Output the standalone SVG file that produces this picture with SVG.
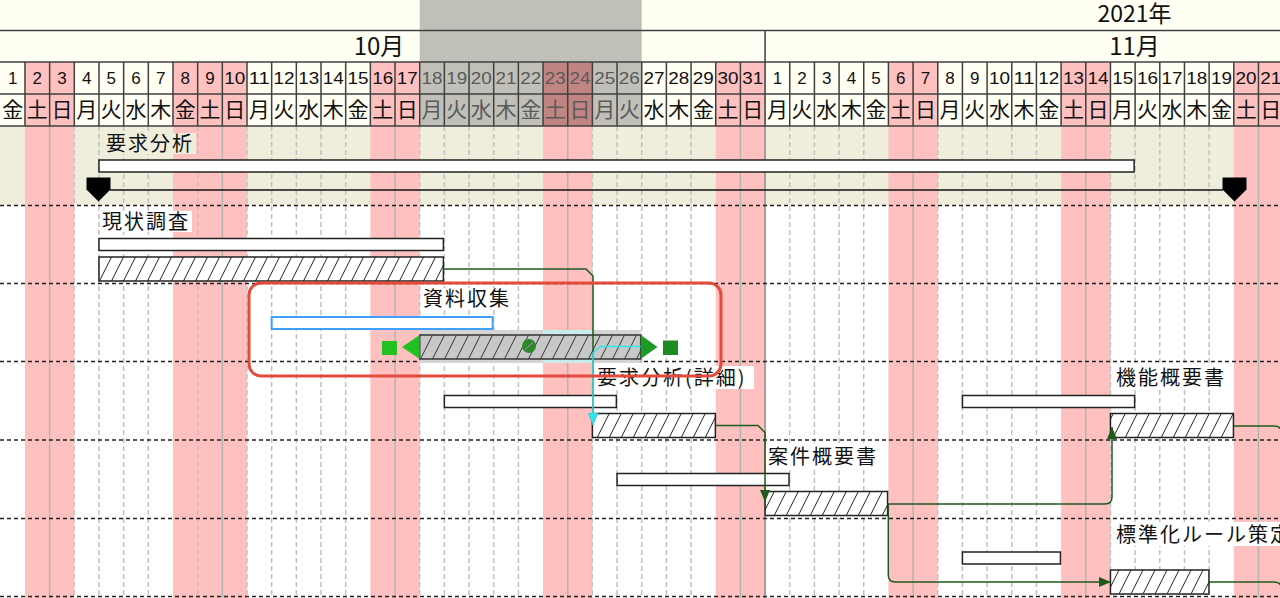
<svg xmlns="http://www.w3.org/2000/svg" width="1280" height="598" viewBox="0 0 1280 598">
<style>
.hl{stroke:#404040;stroke-width:1.5;fill:none}
.dash{stroke:#c2c2c2;stroke-width:1.5;stroke-dasharray:5 3;fill:none}
.sun{stroke:#b4b4b4;stroke-width:1.5;fill:none}
.rowsep{stroke:#202020;stroke-width:1.5;stroke-dasharray:4 3;fill:none}
.dn{font-family:"Liberation Sans",Arial,sans-serif;font-size:17px;fill:#111;text-anchor:middle}
.wd{font-family:"Noto Sans CJK JP","Noto Sans CJK SC",sans-serif;font-size:21px;fill:#111;text-anchor:middle}
.g{fill:#5a5a5a}
.mh{font-family:"Noto Sans CJK JP","Noto Sans CJK SC",sans-serif;font-size:24px;fill:#111;text-anchor:middle}
.yr{font-family:"Noto Sans CJK JP","Noto Sans CJK SC",sans-serif;font-size:23px;fill:#111;text-anchor:middle}
.lbl{font-family:"Noto Sans CJK JP","Noto Sans CJK SC",sans-serif;font-size:20px;letter-spacing:2px;fill:#111}
.plan{fill:#fff;stroke:#222;stroke-width:1.5}
.act{fill:url(#hatch);stroke:#222;stroke-width:1.5}
.con{fill:none;stroke:#1e5a1e;stroke-width:1.5}
</style>
<defs>
<pattern id="hatch" patternUnits="userSpaceOnUse" width="12" height="24">
<rect width="12" height="24" fill="#fff"/>
<path d="M0,24L12,0M-12,24L0,0M12,24L24,0" stroke="#222" stroke-width="1"/>
</pattern>
<pattern id="hatchGray" patternUnits="userSpaceOnUse" width="12" height="24">
<rect width="12" height="24" fill="#c8c8c8"/>
<path d="M0,24L12,0M-12,24L0,0M12,24L24,0" stroke="#333" stroke-width="1"/>
</pattern>
<marker id="arrG" viewBox="0 0 12 10" refX="12" refY="5" markerWidth="12" markerHeight="10" markerUnits="userSpaceOnUse" orient="auto">
<path d="M0,0L12,5L0,10Z" fill="#1e5a1e"/>
</marker>
<marker id="arrC" viewBox="0 0 12 10" refX="12" refY="5" markerWidth="12" markerHeight="10" markerUnits="userSpaceOnUse" orient="auto">
<path d="M0,0L12,5L0,10Z" fill="#30e4f0"/>
</marker>
</defs>

<!-- backgrounds -->
<g id="background">
<rect x="0" y="0" width="1280" height="126" fill="#fffff4"/>
<rect x="419.69" y="0" width="222.03" height="126" fill="#c0c0b8"/>
<g fill="#ffc0c0">
<rect x="24.97" y="62" width="49.34" height="64"/>
<rect x="172.99" y="62" width="74.01" height="64"/>
<rect x="370.35" y="62" width="49.34" height="64"/>
<rect x="715.73" y="62" width="49.34" height="64"/>
<rect x="888.42" y="62" width="49.34" height="64"/>
<rect x="1061.11" y="62" width="49.34" height="64"/>
<rect x="1233.8" y="62" width="49.34" height="64"/>
</g>
<rect x="543.04" y="62" width="49.34" height="64" fill="#c08482"/>
<rect x="0" y="126" width="1280" height="472" fill="#ffffff"/>
<rect x="0" y="126" width="1280" height="79.5" fill="#efeedc"/>
<g fill="#ffc0c0">
<rect x="24.97" y="126" width="49.34" height="472"/>
<rect x="172.99" y="126" width="74.01" height="472"/>
<rect x="370.35" y="126" width="49.34" height="472"/>
<rect x="543.04" y="126" width="49.34" height="472"/>
<rect x="715.73" y="126" width="49.34" height="472"/>
<rect x="888.42" y="126" width="49.34" height="472"/>
<rect x="1061.11" y="126" width="49.34" height="472"/>
<rect x="1233.8" y="126" width="49.34" height="472"/>
</g>
</g>

<!-- grid -->
<g id="grid">
<path class="dash" d="M74.31,126V598M98.98,126V598M123.65,126V598M148.32,126V598M197.66,126V598M247,126V598M271.67,126V598M296.34,126V598M321.01,126V598M345.68,126V598M419.69,126V598M444.36,126V598M469.03,126V598M493.7,126V598M518.37,126V598M592.38,126V598M617.05,126V598M641.72,126V598M666.39,126V598M691.06,126V598M789.74,126V598M814.41,126V598M839.08,126V598M863.75,126V598M937.76,126V598M962.43,126V598M987.1,126V598M1011.77,126V598M1036.44,126V598M1110.45,126V598M1135.12,126V598M1159.79,126V598M1184.46,126V598M1209.13,126V598"/>
<path class="sun" d="M49.64,126V598M222.33,126V598M395.02,126V598M567.71,126V598M740.4,126V598M913.09,126V598M1085.78,126V598M1258.47,126V598"/>
<path d="M765.07,126V598" stroke="#8c8c8c" stroke-width="1.5"/>
<path class="hl" d="M0,30.5H1280M0,62H1280M0,94H1280M0,126H1280M765.07,30.5V62"/>
<path class="hl" d="M24.97,62V126M49.64,62V126M74.31,62V126M98.98,62V126M123.65,62V126M148.32,62V126M172.99,62V126M197.66,62V126M222.33,62V126M247,62V126M271.67,62V126M296.34,62V126M321.01,62V126M345.68,62V126M370.35,62V126M395.02,62V126M419.69,62V126M444.36,62V126M469.03,62V126M493.7,62V126M518.37,62V126M543.04,62V126M567.71,62V126M592.38,62V126M617.05,62V126M641.72,62V126M666.39,62V126M691.06,62V126M715.73,62V126M740.4,62V126M765.07,62V126M789.74,62V126M814.41,62V126M839.08,62V126M863.75,62V126M888.42,62V126M913.09,62V126M937.76,62V126M962.43,62V126M987.1,62V126M1011.77,62V126M1036.44,62V126M1061.11,62V126M1085.78,62V126M1110.45,62V126M1135.12,62V126M1159.79,62V126M1184.46,62V126M1209.13,62V126M1233.8,62V126M1258.47,62V126"/>
<path class="rowsep" d="M0,205.5H1280M0,283.5H1280M0,361.5H1280M0,440H1280M0,518.5H1280M0,596.5H1280"/>
</g>

<!-- header texts -->
<g id="header">
<text class="yr" x="1134.5" y="22">2021年</text>
<text class="mh" x="379" y="55">10月</text>
<text class="mh" x="1134.5" y="55">11月</text>
<g>
<text class="dn" x="12.63" y="84">1</text>
<text class="dn" x="37.3" y="84">2</text>
<text class="dn" x="61.97" y="84">3</text>
<text class="dn" x="86.64" y="84">4</text>
<text class="dn" x="111.31" y="84">5</text>
<text class="dn" x="135.98" y="84">6</text>
<text class="dn" x="160.65" y="84">7</text>
<text class="dn" x="185.32" y="84">8</text>
<text class="dn" x="209.99" y="84">9</text>
<text class="dn" x="234.66" y="84" textLength="21" lengthAdjust="spacingAndGlyphs">10</text>
<text class="dn" x="259.33" y="84" textLength="21" lengthAdjust="spacingAndGlyphs">11</text>
<text class="dn" x="284" y="84" textLength="21" lengthAdjust="spacingAndGlyphs">12</text>
<text class="dn" x="308.67" y="84" textLength="21" lengthAdjust="spacingAndGlyphs">13</text>
<text class="dn" x="333.34" y="84" textLength="21" lengthAdjust="spacingAndGlyphs">14</text>
<text class="dn" x="358.01" y="84" textLength="21" lengthAdjust="spacingAndGlyphs">15</text>
<text class="dn" x="382.68" y="84" textLength="21" lengthAdjust="spacingAndGlyphs">16</text>
<text class="dn" x="407.35" y="84" textLength="21" lengthAdjust="spacingAndGlyphs">17</text>
<text class="dn g" x="432.02" y="84" textLength="21" lengthAdjust="spacingAndGlyphs">18</text>
<text class="dn g" x="456.69" y="84" textLength="21" lengthAdjust="spacingAndGlyphs">19</text>
<text class="dn g" x="481.36" y="84" textLength="21" lengthAdjust="spacingAndGlyphs">20</text>
<text class="dn g" x="506.03" y="84" textLength="21" lengthAdjust="spacingAndGlyphs">21</text>
<text class="dn g" x="530.7" y="84" textLength="21" lengthAdjust="spacingAndGlyphs">22</text>
<text class="dn g" x="555.37" y="84" textLength="21" lengthAdjust="spacingAndGlyphs">23</text>
<text class="dn g" x="580.04" y="84" textLength="21" lengthAdjust="spacingAndGlyphs">24</text>
<text class="dn g" x="604.71" y="84" textLength="21" lengthAdjust="spacingAndGlyphs">25</text>
<text class="dn g" x="629.38" y="84" textLength="21" lengthAdjust="spacingAndGlyphs">26</text>
<text class="dn" x="654.05" y="84" textLength="21" lengthAdjust="spacingAndGlyphs">27</text>
<text class="dn" x="678.72" y="84" textLength="21" lengthAdjust="spacingAndGlyphs">28</text>
<text class="dn" x="703.39" y="84" textLength="21" lengthAdjust="spacingAndGlyphs">29</text>
<text class="dn" x="728.06" y="84" textLength="21" lengthAdjust="spacingAndGlyphs">30</text>
<text class="dn" x="752.73" y="84" textLength="21" lengthAdjust="spacingAndGlyphs">31</text>
<text class="dn" x="777.4" y="84">1</text>
<text class="dn" x="802.07" y="84">2</text>
<text class="dn" x="826.74" y="84">3</text>
<text class="dn" x="851.41" y="84">4</text>
<text class="dn" x="876.08" y="84">5</text>
<text class="dn" x="900.75" y="84">6</text>
<text class="dn" x="925.42" y="84">7</text>
<text class="dn" x="950.09" y="84">8</text>
<text class="dn" x="974.76" y="84">9</text>
<text class="dn" x="999.43" y="84" textLength="21" lengthAdjust="spacingAndGlyphs">10</text>
<text class="dn" x="1024.1" y="84" textLength="21" lengthAdjust="spacingAndGlyphs">11</text>
<text class="dn" x="1048.77" y="84" textLength="21" lengthAdjust="spacingAndGlyphs">12</text>
<text class="dn" x="1073.44" y="84" textLength="21" lengthAdjust="spacingAndGlyphs">13</text>
<text class="dn" x="1098.11" y="84" textLength="21" lengthAdjust="spacingAndGlyphs">14</text>
<text class="dn" x="1122.78" y="84" textLength="21" lengthAdjust="spacingAndGlyphs">15</text>
<text class="dn" x="1147.45" y="84" textLength="21" lengthAdjust="spacingAndGlyphs">16</text>
<text class="dn" x="1172.12" y="84" textLength="21" lengthAdjust="spacingAndGlyphs">17</text>
<text class="dn" x="1196.79" y="84" textLength="21" lengthAdjust="spacingAndGlyphs">18</text>
<text class="dn" x="1221.46" y="84" textLength="21" lengthAdjust="spacingAndGlyphs">19</text>
<text class="dn" x="1246.13" y="84" textLength="21" lengthAdjust="spacingAndGlyphs">20</text>
<text class="dn" x="1270.8" y="84" textLength="21" lengthAdjust="spacingAndGlyphs">21</text>
</g>
<g>
<text class="wd" x="12.63" y="116.5">金</text>
<text class="wd" x="37.3" y="116.5">土</text>
<text class="wd" x="61.97" y="116.5">日</text>
<text class="wd" x="86.64" y="116.5">月</text>
<text class="wd" x="111.31" y="116.5">火</text>
<text class="wd" x="135.98" y="116.5">水</text>
<text class="wd" x="160.65" y="116.5">木</text>
<text class="wd" x="185.32" y="116.5">金</text>
<text class="wd" x="209.99" y="116.5">土</text>
<text class="wd" x="234.66" y="116.5">日</text>
<text class="wd" x="259.33" y="116.5">月</text>
<text class="wd" x="284" y="116.5">火</text>
<text class="wd" x="308.67" y="116.5">水</text>
<text class="wd" x="333.34" y="116.5">木</text>
<text class="wd" x="358.01" y="116.5">金</text>
<text class="wd" x="382.68" y="116.5">土</text>
<text class="wd" x="407.35" y="116.5">日</text>
<text class="wd g" x="432.02" y="116.5">月</text>
<text class="wd g" x="456.69" y="116.5">火</text>
<text class="wd g" x="481.36" y="116.5">水</text>
<text class="wd g" x="506.03" y="116.5">木</text>
<text class="wd g" x="530.7" y="116.5">金</text>
<text class="wd g" x="555.37" y="116.5">土</text>
<text class="wd g" x="580.04" y="116.5">日</text>
<text class="wd g" x="604.71" y="116.5">月</text>
<text class="wd g" x="629.38" y="116.5">火</text>
<text class="wd" x="654.05" y="116.5">水</text>
<text class="wd" x="678.72" y="116.5">木</text>
<text class="wd" x="703.39" y="116.5">金</text>
<text class="wd" x="728.06" y="116.5">土</text>
<text class="wd" x="752.73" y="116.5">日</text>
<text class="wd" x="777.4" y="116.5">月</text>
<text class="wd" x="802.07" y="116.5">火</text>
<text class="wd" x="826.74" y="116.5">水</text>
<text class="wd" x="851.41" y="116.5">木</text>
<text class="wd" x="876.08" y="116.5">金</text>
<text class="wd" x="900.75" y="116.5">土</text>
<text class="wd" x="925.42" y="116.5">日</text>
<text class="wd" x="950.09" y="116.5">月</text>
<text class="wd" x="974.76" y="116.5">火</text>
<text class="wd" x="999.43" y="116.5">水</text>
<text class="wd" x="1024.1" y="116.5">木</text>
<text class="wd" x="1048.77" y="116.5">金</text>
<text class="wd" x="1073.44" y="116.5">土</text>
<text class="wd" x="1098.11" y="116.5">日</text>
<text class="wd" x="1122.78" y="116.5">月</text>
<text class="wd" x="1147.45" y="116.5">火</text>
<text class="wd" x="1172.12" y="116.5">水</text>
<text class="wd" x="1196.79" y="116.5">木</text>
<text class="wd" x="1221.46" y="116.5">金</text>
<text class="wd" x="1246.13" y="116.5">土</text>
<text class="wd" x="1270.8" y="116.5">日</text>
</g>
</g>

<!-- tasks -->
<g id="task-youkyuu-bunseki">
<rect x="104" y="133" width="92" height="21" fill="#efeedc"/>
<text class="lbl" x="106" y="151">要求分析</text>
<rect class="plan" x="98.98" y="160" width="1035.14" height="12"/>
<path d="M110,190H1223" stroke="#111" stroke-width="1.5"/>
<path d="M86.5,177.5H110.5V189.5L98.5,201.5L86.5,189.5Z" fill="#000"/>
<path d="M1222.5,177.5H1246.5V189.5L1234.5,201.5L1222.5,189.5Z" fill="#000"/>
</g>

<g id="task-genjou-chousa">
<rect x="100" y="211" width="92" height="21" fill="#fff"/>
<text class="lbl" x="102" y="229">現状調査</text>
<rect class="plan" x="98.98" y="238.5" width="344.4" height="12"/>
<rect class="act" x="98.98" y="257" width="344.4" height="24"/>
</g>

<g id="task-shiryou-shuushuu">
<rect x="419.69" y="330" width="221" height="33" fill="#d4d4d4"/>
<rect x="543.04" y="330" width="49.34" height="33" fill="#c8ecec"/>
<rect x="421" y="288" width="92" height="21" fill="#fff"/>
<text class="lbl" x="423" y="306">資料収集</text>
<rect x="271.67" y="317" width="221" height="12" fill="#fff" stroke="#3fa0ff" stroke-width="2"/>
<rect x="419.69" y="335" width="221" height="24" fill="url(#hatchGray)" stroke="#333" stroke-width="1.5"/>
<rect x="382" y="341" width="15" height="14" fill="#22c022"/>
<polygon points="402,347 419.7,335 419.7,359" fill="#22c022"/>
<polygon points="640.7,335 657.5,347 640.7,359" fill="#1f9a24"/>
<rect x="663" y="340.5" width="15" height="14.5" fill="#1e8a22"/>
<circle cx="529" cy="346" r="7" fill="#2a8a2a"/>
<path d="M525,350L533,342" stroke="#d070d0" stroke-width="1"/>
</g>

<g id="task-youkyuu-shousai">
<rect x="594" y="366" width="160" height="23" fill="#fff"/>
<text class="lbl" x="597" y="385">要求分析(詳細)</text>
<rect class="plan" x="444.36" y="395.5" width="172" height="12"/>
<rect class="act" x="592.38" y="413.5" width="123" height="24"/>
</g>

<g id="task-kinou-gaiyousho">
<rect x="1113" y="366" width="116" height="23" fill="#fff"/>
<text class="lbl" x="1116" y="385">機能概要書</text>
<rect class="plan" x="962.43" y="395.5" width="172.2" height="12"/>
<rect class="act" x="1110.45" y="413.5" width="123" height="24"/>
</g>

<g id="task-anken-gaiyousho">
<rect x="765.5" y="444" width="118" height="23" fill="#fff"/>
<text class="lbl" x="768" y="464">案件概要書</text>
<rect class="plan" x="617.05" y="473.5" width="172" height="12"/>
<rect class="act" x="765.07" y="491.5" width="122.5" height="24"/>
</g>

<g id="task-hyoujunka-rule">
<rect x="1113" y="522" width="180" height="24" fill="#fff"/>
<text class="lbl" x="1116" y="542">標準化ルール策定</text>
<rect class="plan" x="962.43" y="552" width="98" height="12"/>
<rect class="act" x="1110.45" y="570" width="98.5" height="24"/>
</g>

<!-- connectors -->
<g id="connectors">
<path class="con" d="M443.4,269H586L593,276V425" marker-end="url(#arrG)"/>
<path d="M640.7,346.5H600L593,353V425" fill="none" stroke="#30e4f0" stroke-width="1.5" marker-end="url(#arrC)"/>
<path class="con" d="M715.4,425.5H758L765,432.5V502" marker-end="url(#arrG)"/>
<path class="con" d="M887.6,504H1105Q1112,504 1112,497V427" marker-end="url(#arrG)"/>
<path class="con" d="M888.3,504V575Q888.3,582 895.3,582H1111" marker-end="url(#arrG)"/>
<path class="con" d="M1233.5,426H1274Q1282,426 1282,434V600"/>
<path class="con" d="M1209,582H1274Q1282,582 1282,590V600"/>
</g>

<g id="selection">
<rect x="249" y="283" width="472" height="93" rx="12" fill="none" stroke="#e24b3b" stroke-width="3"/>
</g>
</svg>
